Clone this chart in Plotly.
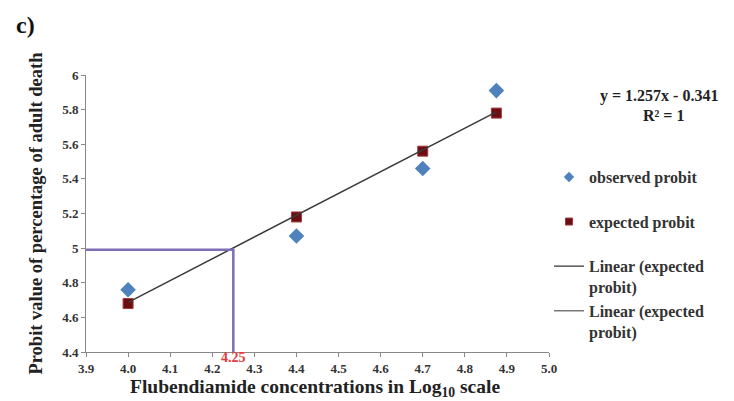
import plotly.graph_objects as go

# Data
log_conc = [4.0, 4.4, 4.7, 4.875]
observed_probit = [4.76, 5.07, 5.46, 5.91]
expected_probit = [4.68, 5.18, 5.56, 5.78]
slope, intercept = 1.257, -0.341
lc50_x = 4.25
lc50_y = 4.99
x_ticks = [3.9, 4.0, 4.1, 4.2, 4.3, 4.4, 4.5, 4.6, 4.7, 4.8, 4.9, 5.0]
y_ticks = [4.4, 4.6, 4.8, 5.0, 5.2, 5.4, 5.6, 5.8, 6.0]

SERIF = "Liberation Serif"
BLUE = "#4F81BD"
MAROON = "#6A0E12"
MAROON_EDGE = "#A8383C"
DARK = "#3A3A3A"
PURPLE = "#7F6DB5"

fig = go.Figure()

# plotted marks (legend drawn separately with smaller sample markers)
fig.add_trace(go.Scatter(
    x=log_conc, y=observed_probit, mode="markers", showlegend=False,
    marker=dict(symbol="diamond", size=12, color=BLUE, line=dict(width=0)),
))
fig.add_trace(go.Scatter(
    x=log_conc, y=expected_probit, mode="markers", showlegend=False,
    marker=dict(symbol="square", size=10, color=MAROON, line=dict(width=1, color=MAROON_EDGE)),
))
fit_x = [log_conc[0], log_conc[-1]]
fit_y = [slope * v + intercept for v in fit_x]
fig.add_trace(go.Scatter(
    x=fit_x, y=fit_y, mode="lines", showlegend=False,
    line=dict(color=DARK, width=1.5),
))
fig.add_trace(go.Scatter(
    x=[x_ticks[0], lc50_x, lc50_x], y=[lc50_y, lc50_y, y_ticks[0]], mode="lines",
    showlegend=False,
    line=dict(color=PURPLE, width=2.5),
))

# legend entries
fig.add_trace(go.Scatter(
    x=[None], y=[None], mode="markers", name="<b>observed probit</b><br> ",
    marker=dict(symbol="diamond", size=8, color=BLUE),
))
fig.add_trace(go.Scatter(
    x=[None], y=[None], mode="markers", name="<b>expected probit</b><br> ",
    marker=dict(symbol="square", size=7, color=MAROON, line=dict(width=1, color=MAROON_EDGE)),
))
fig.add_trace(go.Scatter(
    x=[None], y=[None], mode="lines", name="<b>Linear (expected<br>probit)</b>",
    line=dict(color="#555555", width=1.5),
))
fig.add_trace(go.Scatter(
    x=[None], y=[None], mode="lines", name="<b>Linear (expected<br>probit)</b>",
    line=dict(color="#777777", width=1.5),
))

bold_tick = dict(family=SERIF, size=13, color="#333333")

fig.update_layout(
    width=734, height=401,
    margin=dict(l=86, r=185, t=75, b=49),
    paper_bgcolor="white", plot_bgcolor="white",
    font=dict(family=SERIF, color="#222222"),
    showlegend=True,
    legend=dict(
        x=1.0, xanchor="left", y=0.693, yanchor="top",
        font=dict(family=SERIF, size=16, color="#333333"),
        valign="top", itemwidth=30, tracegroupgap=0,
        bgcolor="rgba(0,0,0,0)",
    ),
    xaxis=dict(
        range=[3.9, 5.0], tickvals=x_ticks,
        ticktext=["<b>%.1f</b>" % v for v in x_ticks],
        showgrid=False, zeroline=False,
        showline=True, linecolor="#888888", linewidth=1,
        ticks="outside", ticklen=4, tickcolor="#888888",
        tickfont=bold_tick,
    ),
    yaxis=dict(
        range=[4.4, 6.0], tickvals=y_ticks,
        ticktext=["<b>%g</b>" % v for v in y_ticks],
        showgrid=False, zeroline=False,
        showline=True, linecolor="#888888", linewidth=1,
        ticks="outside", ticklen=4, tickcolor="#888888",
        tickfont=bold_tick,
    ),
)

fig.add_annotation(
    text="<b>c)</b>", xref="paper", yref="paper", x=-0.155, y=1.0, yshift=50,
    xanchor="left", yanchor="middle", showarrow=False,
    font=dict(family=SERIF, size=24, color="#111111"),
)
fig.add_annotation(
    text="<b>Probit value of percentage of adult death</b>",
    xref="paper", yref="paper", x=-0.11, y=0.5, yshift=0,
    textangle=-90, xanchor="center", yanchor="middle", showarrow=False,
    font=dict(family=SERIF, size=18.5, color="#222222"),
)
fig.add_annotation(
    text="<b>Flubendiamide concentrations in Log<sub>10</sub> scale</b>",
    xref="paper", yref="paper", x=0.495, y=0, yshift=-36,
    xanchor="center", yanchor="middle", showarrow=False,
    font=dict(family=SERIF, size=19.5, color="#222222"),
)
fig.add_annotation(
    text="<b>4.25</b>", xref="x", yref="paper", x=lc50_x, y=0, yshift=-5,
    xanchor="center", yanchor="middle", showarrow=False,
    font=dict(family=SERIF, size=14, color="#E8383D"),
)
fig.add_annotation(
    text="<b>y = 1.257x - 0.341</b>", xref="paper", yref="paper",
    x=1.0, xshift=110, y=(352 - 96) / 277, xanchor="center", yanchor="middle",
    showarrow=False,
    font=dict(family=SERIF, size=16, color="#222222"),
)
fig.add_annotation(
    text="<b>R² = 1</b>", xref="paper", yref="paper",
    x=1.0, xshift=114, y=(352 - 115) / 277, xanchor="center", yanchor="middle",
    showarrow=False,
    font=dict(family=SERIF, size=16, color="#222222"),
)

fig.write_html("out.html")
